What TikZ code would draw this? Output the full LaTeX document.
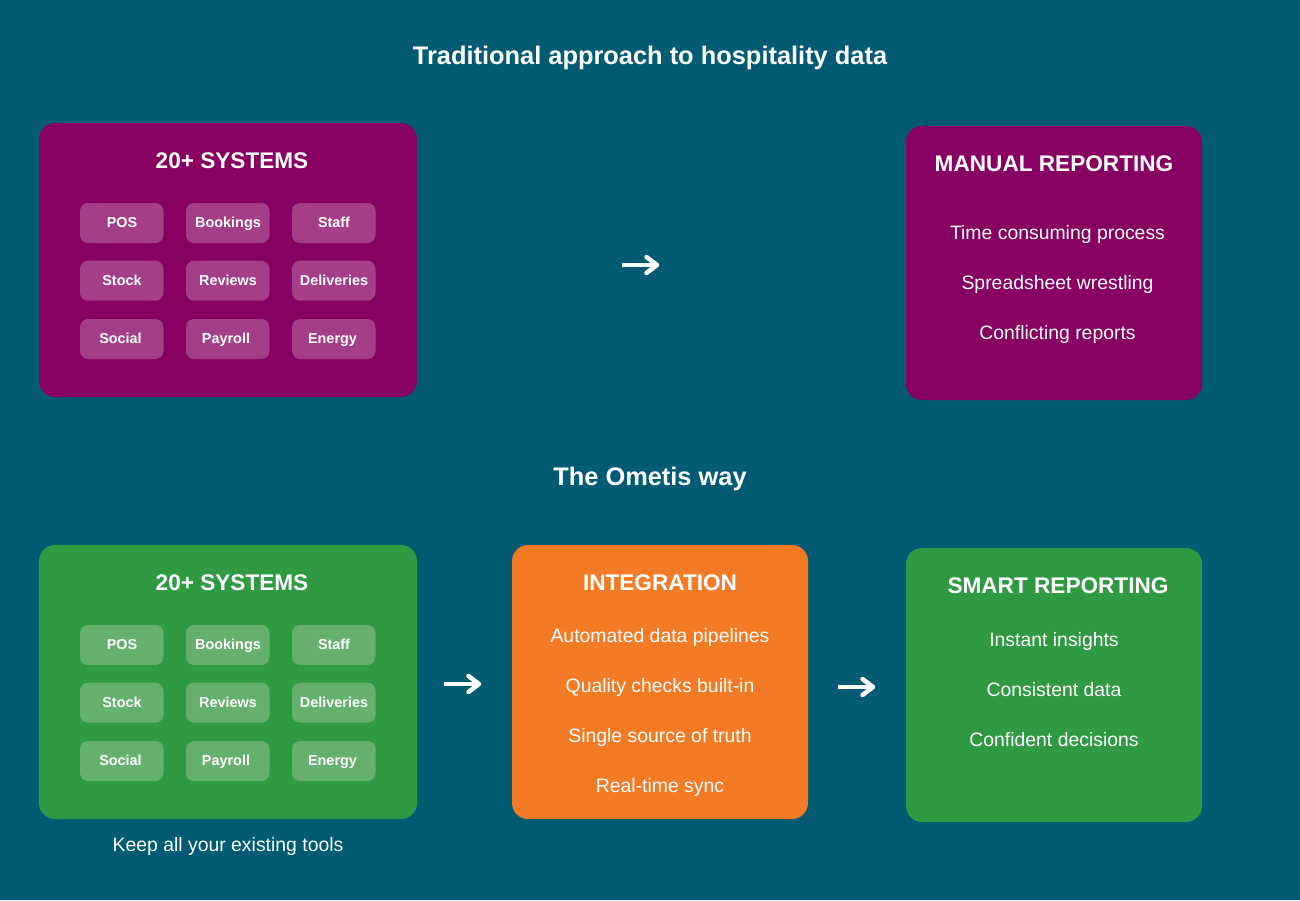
\documentclass[tikz,border=0pt]{standalone}
\usepackage{fontspec}
\setmainfont{Liberation Sans}
\definecolor{bgc}{HTML}{005B73}
\definecolor{plum}{HTML}{870061}
\definecolor{plumcell}{HTML}{A33E87}
\definecolor{leaf}{HTML}{2F9A41}
\definecolor{leafcell}{HTML}{65B06F}
\definecolor{amber}{HTML}{F47B25}
\tikzset{
  panel/.style={rounded corners=16pt,inner sep=0pt,outer sep=0pt,anchor=north west},
  cell/.style={rounded corners=8pt,inner sep=0pt,outer sep=0pt,anchor=north west,minimum width=83.5pt,minimum height=40pt},
  celltext/.style={text=white,anchor=base,inner sep=0pt,font=\fontsize{14.4}{16}\selectfont\bfseries},
  heading/.style={text=white,anchor=base,inner sep=0pt,font=\fontsize{25.4}{28}\selectfont\bfseries},
  boxhead/.style={text=white,anchor=base,inner sep=0pt,font=\fontsize{22.6}{26}\selectfont\bfseries},
  item/.style={text=white,anchor=base,inner sep=0pt,font=\fontsize{19.4}{22}\selectfont},
  flow/.style={draw=white,line width=4.5pt,line join=round},
  flowhead/.style={draw=white,line width=4.5pt,line join=round,line cap=round},
}
\newcommand{\cellgrid}[3]{% prefix, y offset, cell colour
  \foreach \n/\cx/\cy/\tx/\ty/\lab in {
    a/80/203/122/227/POS, b/186/203/228/227/Bookings, c/292/203/334/227/Staff,
    d/80/260.7/122/285/Stock, e/186/260.7/228/285/Reviews, f/292/260.7/334/285/Deliveries,
    g/80/319/120.5/343/Social, h/186/319/226/343/Payroll, i/292/319/332.5/343/Energy}{
    \node[cell,fill=#3] (#1\n) at (\cx,\cy+#2) {};
    \node[celltext] (#1\n t) at (\tx,\ty+#2) {\lab};
  }
}
\newcommand{\flowarrow}[2]{%
  \draw[flow] (#1) -- (#2);
  \draw[flowhead] ([shift={(-10.5,-8)}]#2) -- (#2) -- ([shift={(-10.5,8)}]#2);
}
\begin{document}
\begin{tikzpicture}[x=1pt,y=-1pt]
\useasboundingbox (0,0) rectangle (1300,900);
\fill[bgc] (0,0) rectangle (1300,900);

\node[heading] (title1) at (650,64) {Traditional approach to hospitality data};
\node[heading] (title2) at (650,485) {The Ometis way};

\node[panel,fill=plum,minimum width=378pt,minimum height=274pt] (sys1) at (39,123) {};
\node[boxhead] (sys1h) at (232,168) {20+ SYSTEMS};
\cellgrid{p}{0}{plumcell}

\node[panel,fill=plum,minimum width=296pt,minimum height=274pt] (manual) at (906,126) {};
\node[boxhead] (manualh) at (1054,171) {MANUAL REPORTING};
\node[item] (m1) at (1057.5,239.3) {Time consuming process};
\node[item] (m2) at (1057.5,289.3) {Spreadsheet wrestling};
\node[item] (m3) at (1057.5,339.3) {Conflicting reports};

\node[panel,fill=leaf,minimum width=378pt,minimum height=274pt] (sys2) at (39,545) {};
\node[boxhead] (sys2h) at (232,590) {20+ SYSTEMS};
\cellgrid{q}{422}{leafcell}
\node[item] (keep) at (228,851.8) {Keep all your existing tools};

\node[panel,fill=amber,minimum width=296pt,minimum height=274pt] (integ) at (512,545) {};
\node[boxhead] (integh) at (660,590) {INTEGRATION};
\node[item] (i1) at (660,642.3) {Automated data pipelines};
\node[item] (i2) at (660,692.3) {Quality checks built-in};
\node[item] (i3) at (660,742.3) {Single source of truth};
\node[item] (i4) at (660,792.3) {Real-time sync};

\node[panel,fill=leaf,minimum width=296pt,minimum height=274pt] (smart) at (906,548) {};
\node[boxhead] (smarth) at (1058,593) {SMART REPORTING};
\node[item] (s1) at (1054,646.3) {Instant insights};
\node[item] (s2) at (1054,696.3) {Consistent data};
\node[item] (s3) at (1054,746.3) {Confident decisions};

\coordinate (a1s) at (622,265); \coordinate (a1e) at (657,265);
\coordinate (a2s) at (444,684); \coordinate (a2e) at (479,684);
\coordinate (a3s) at (838,687); \coordinate (a3e) at (873,687);
\flowarrow{a1s}{a1e}
\flowarrow{a2s}{a2e}
\flowarrow{a3s}{a3e}
\end{tikzpicture}
\end{document}
